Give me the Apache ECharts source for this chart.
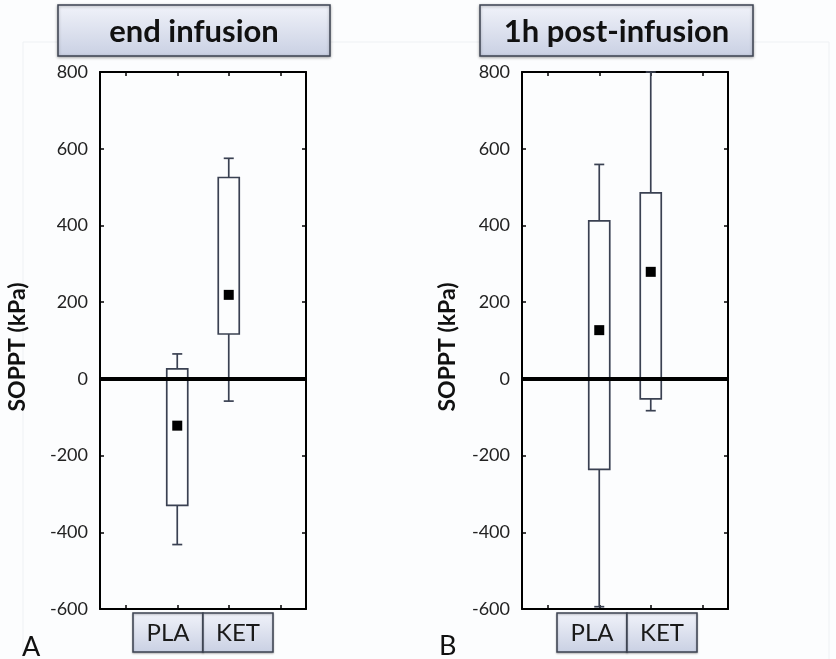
<!DOCTYPE html>
<html>
<head>
<meta charset="utf-8">
<script src="https://cdn.jsdelivr.net/npm/echarts@6/dist/echarts.min.js"></script>
<style>
html,body{margin:0;padding:0;background:#fcfdfe;}
#chart{width:836px;height:659px;}
</style>
</head>
<body>
<div id="chart"></div>
<script>
// ---- data ----
const categories = ['', 'PLA', 'KET', ''];
const panelTitles = ['end infusion', '1h post-infusion'];
const groupLabels = ['PLA', 'KET'];
const panelLetters = ['A', 'B'];
const yAxisTitle = 'SOPPT (kPa)';
const yMin = -600, yMax = 800, yStep = 200;
// [categoryIndex, lowWhisker, boxBottom, boxTop, highWhisker]
const endInfusionStats = [[1, -432, -330, 26, 65], [2, -58, 117, 525, 575]];
const endInfusionMeans = [[1, -122], [2, 219]];
const postInfusionStats = [[1, -594, -236, 412, 559], [2, -83, -52, 485, 800]];
const postInfusionMeans = [[1, 127], [2, 279]];

// ---- chart ----
const chart = echarts.init(document.getElementById('chart'), null, {renderer: 'canvas'});
const FONT = 'Lato, "Open Sans", sans-serif';
const boxStroke = '#3a4152';

function renderBox(params, api) {
  const x = api.value(0);
  const lo = api.coord([x, api.value(1)]);
  const q1 = api.coord([x, api.value(2)]);
  const q3 = api.coord([x, api.value(3)]);
  const hi = api.coord([x, api.value(4)]);
  const cx = lo[0], bw = 10.5, cw = 5;
  const st = {stroke: boxStroke, lineWidth: 1.7, fill: null};
  return {
    type: 'group',
    children: [
      {type: 'line', shape: {x1: cx, y1: q3[1], x2: cx, y2: hi[1]}, style: st},
      {type: 'line', shape: {x1: cx - cw, y1: hi[1], x2: cx + cw, y2: hi[1]}, style: st},
      {type: 'line', shape: {x1: cx, y1: q1[1], x2: cx, y2: lo[1]}, style: st},
      {type: 'line', shape: {x1: cx - cw, y1: lo[1], x2: cx + cw, y2: lo[1]}, style: st},
      {type: 'rect', shape: {x: cx - bw, y: q3[1], width: 2 * bw, height: q1[1] - q3[1]}, style: st}
    ]
  };
}

const grids = [
  {left: 100, top: 72, width: 206, height: 537},
  {left: 522, top: 72, width: 206, height: 537}
];

const xAxes = [], yAxes = [];
grids.forEach((g, gi) => {
  ['bottom', 'top'].forEach(pos => {
    xAxes.push({
      type: 'category', gridIndex: gi, position: pos, data: categories,
      boundaryGap: true,
      axisLine: {show: true, onZero: false, lineStyle: {color: '#000', width: 2}},
      axisTick: {show: true, inside: true, alignWithLabel: true, length: 4, lineStyle: {color: '#000', width: 1.5}},
      axisLabel: {show: false}, splitLine: {show: false}
    });
  });
  ['left', 'right'].forEach(pos => {
    yAxes.push({
      type: 'value', gridIndex: gi, position: pos, min: yMin, max: yMax, interval: yStep,
      axisLine: {show: true, onZero: false, lineStyle: {color: '#000', width: 2}},
      axisTick: {show: true, inside: true, length: 4, lineStyle: {color: '#000', width: 1.5}},
      axisLabel: {show: pos === 'left', margin: 12, color: '#222', fontSize: 18, fontFamily: FONT},
      splitLine: {show: false}
    });
  });
});

const statsSets = [endInfusionStats, postInfusionStats];
const meanSets = [endInfusionMeans, postInfusionMeans];
const series = [];
grids.forEach((g, gi) => {
  series.push({
    type: 'custom', xAxisIndex: gi * 2, yAxisIndex: gi * 2,
    renderItem: renderBox, data: statsSets[gi],
    encode: {x: 0, y: [1, 2, 3, 4]}, z: 2, silent: true
  });
  series.push({
    type: 'scatter', xAxisIndex: gi * 2, yAxisIndex: gi * 2,
    data: meanSets[gi], symbol: 'rect', symbolSize: 10,
    itemStyle: {color: '#000', opacity: 1}, z: 4, silent: true,
    markLine: {
      silent: true, symbol: ['none', 'none'], label: {show: false},
      lineStyle: {color: '#000', width: 4, type: 'solid', opacity: 1},
      data: [{yAxis: 0}], z: 3
    }
  });
});

const grad = () => new echarts.graphic.LinearGradient(0, 0, 0, 1, [
  {offset: 0, color: '#f1f3fa'}, {offset: 1, color: '#c9d0e3'}
]);

const graphics = [
  {type: 'rect', shape: {x: 23, y: 42, width: 806, height: 630}, style: {fill: null, stroke: '#eef1f4', lineWidth: 1}, z: -1}
];
const titleBoxes = [{x: 58, y: 5, w: 272, h: 51}, {x: 480, y: 5, w: 273, h: 51}];
const labelBoxes = [{x: 133, y: 613, w: 70, h: 39}, {x: 557, y: 613, w: 70, h: 39}];
const letterPos = [{x: 22, y: 647}, {x: 439, y: 646}];
const yTitleX = [18, 448];

titleBoxes.forEach((b, i) => {
  graphics.push({
    type: 'rect', shape: {x: b.x, y: b.y, width: b.w, height: b.h},
    style: {fill: grad(), stroke: '#3d4352', lineWidth: 1.5, shadowBlur: 3, shadowOffsetY: 1, shadowColor: 'rgba(0,0,0,0.3)'}, z: 10
  });
  graphics.push({
    type: 'text', x: b.x + b.w / 2, y: b.y + b.h / 2 + 1,
    style: {text: panelTitles[i], fontFamily: FONT, fontWeight: 'bold', fontSize: 31, fill: '#111', textAlign: 'center', textVerticalAlign: 'middle'}, z: 11
  });
  const lb = labelBoxes[i];
  groupLabels.forEach((t, j) => {
    graphics.push({
      type: 'rect', shape: {x: lb.x + j * lb.w, y: lb.y, width: lb.w, height: lb.h},
      style: {fill: grad(), stroke: '#3d4352', lineWidth: 1.5, shadowBlur: 2, shadowOffsetY: 1, shadowColor: 'rgba(0,0,0,0.25)'}, z: 10
    });
    graphics.push({
      type: 'text', x: lb.x + j * lb.w + lb.w / 2, y: lb.y + lb.h / 2 + 1,
      style: {text: t, fontFamily: FONT, fontSize: 24, fill: '#1a1a1a', textAlign: 'center', textVerticalAlign: 'middle'}, z: 11
    });
  });
  graphics.push({
    type: 'text', x: letterPos[i].x, y: letterPos[i].y,
    style: {text: panelLetters[i], fontFamily: FONT, fontSize: 27, fill: '#111', textAlign: 'left', textVerticalAlign: 'middle'}, z: 11
  });
  graphics.push({
    type: 'text', x: yTitleX[i], y: 347, rotation: Math.PI / 2,
    style: {text: yAxisTitle, fontFamily: FONT, fontWeight: 'bold', fontSize: 23, fill: '#111', textAlign: 'center', textVerticalAlign: 'middle'}, z: 11
  });
});

chart.setOption({
  animation: false,
  backgroundColor: '#fcfdfe',
  grid: grids,
  xAxis: xAxes,
  yAxis: yAxes,
  series: series,
  graphic: graphics
});
</script>
</body>
</html>
